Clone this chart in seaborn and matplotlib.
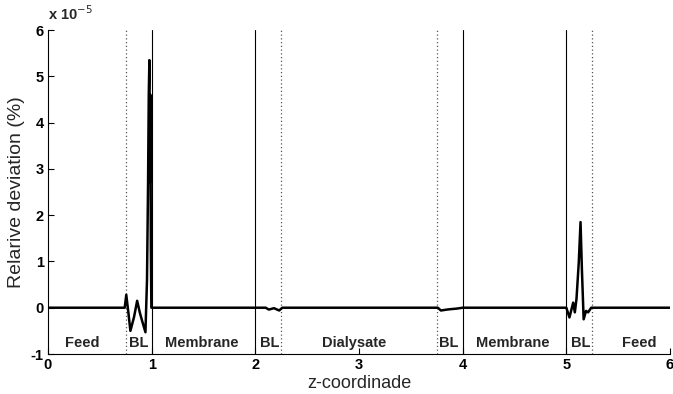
import numpy as np
import pandas as pd
import matplotlib
matplotlib.use("Agg")
import matplotlib.pyplot as plt
import seaborn as sns

# z-coordinate and relative deviation (in units of 1e-5 %)
z = [0.0, 0.74, 0.755, 0.775, 0.795, 0.83, 0.86, 0.885, 0.91, 0.94,
     0.955, 0.965, 0.972, 0.978, 0.983, 0.988, 0.992, 0.997,
     2.0, 2.10, 2.13, 2.18, 2.23, 2.26,
     3.76, 3.79, 3.85, 3.89, 3.94, 4.0,
     5.0, 5.03, 5.066, 5.082, 5.098, 5.12, 5.137, 5.15, 5.167, 5.19, 5.21, 5.24, 6.0]
dev_e5 = [0.0, 0.0, 0.28, -0.1, -0.5, -0.2, 0.15, -0.1, -0.3, -0.53,
          0.6, 2.65, 4.6, 5.35, 2.7, 4.6, 1.3, 0.0,
          0.0, 0.0, -0.04, -0.01, -0.06, 0.0,
          0.0, -0.06, -0.04, -0.03, -0.02, 0.0,
          0.0, -0.21, 0.11, -0.1, 0.19, 0.98, 1.85, 0.84, -0.25, -0.07, -0.1, 0.0, 0.0]

# region boundaries
solid_bounds = [1, 2, 4, 5]
dotted_bounds = [0.75, 2.25, 3.75, 5.25]

# region labels
region_names = ["Feed", "BL", "Membrane", "BL", "Dialysate", "BL", "Membrane", "BL", "Feed"]
region_x = [0.33, 0.88, 1.48, 2.14, 2.95, 3.87, 4.48, 5.14, 5.70]

x_ticks = [0, 1, 2, 3, 4, 5, 6]
y_ticks = [-1, 0, 1, 2, 3, 4, 5, 6]

sns.set_style("ticks")
plt.rcParams["font.family"] = ["Liberation Sans", "DejaVu Sans"]

fig = plt.figure(figsize=(6.73, 3.94), dpi=100)
ax = fig.add_axes([48 / 673, 40 / 394, 622 / 673, 324 / 394])

df = pd.DataFrame({"z": z, "dev": dev_e5})

for b in solid_bounds:
    ax.axvline(b, color="black", lw=0.8, zorder=1)
for b in dotted_bounds:
    ax.axvline(b, color="#555555", lw=0.9, ls=(0, (1, 2)), zorder=1)

sns.lineplot(data=df, x="z", y="dev", sort=False, estimator=None,
             color="black", lw=1.8, ax=ax, zorder=3)

for name, xpos in zip(region_names, region_x):
    ax.text(xpos, -0.76, name, ha="center", va="center", fontsize=10.5,
            fontweight="bold")

ax.set_xlim(0, 6)
ax.set_ylim(-1, 6)
ax.set_xticks(x_ticks)
ax.set_yticks(y_ticks)
ax.set_xticklabels([str(t) for t in x_ticks], fontsize=10.5, fontweight="bold")
ax.set_yticklabels([str(t) for t in y_ticks], fontsize=10.5, fontweight="bold")
ax.tick_params(direction="in", length=4, width=0.8, colors="black", pad=3)

for s in ["top", "right"]:
    ax.spines[s].set_visible(False)
for s in ["left", "bottom"]:
    ax.spines[s].set_linewidth(0.8)
    ax.spines[s].set_color("black")

ax.set_xlabel("z-coordinade", fontsize=13, labelpad=2)
ax.set_ylabel("Relarive deviation (%)", fontsize=14, labelpad=4)
fig.text(48 / 673, 1 - 14 / 394, r"x 10$^{-5}$", fontsize=10.5, fontweight="bold",
         ha="left", va="center")

fig.savefig("out.png", dpi=100, facecolor="white")
